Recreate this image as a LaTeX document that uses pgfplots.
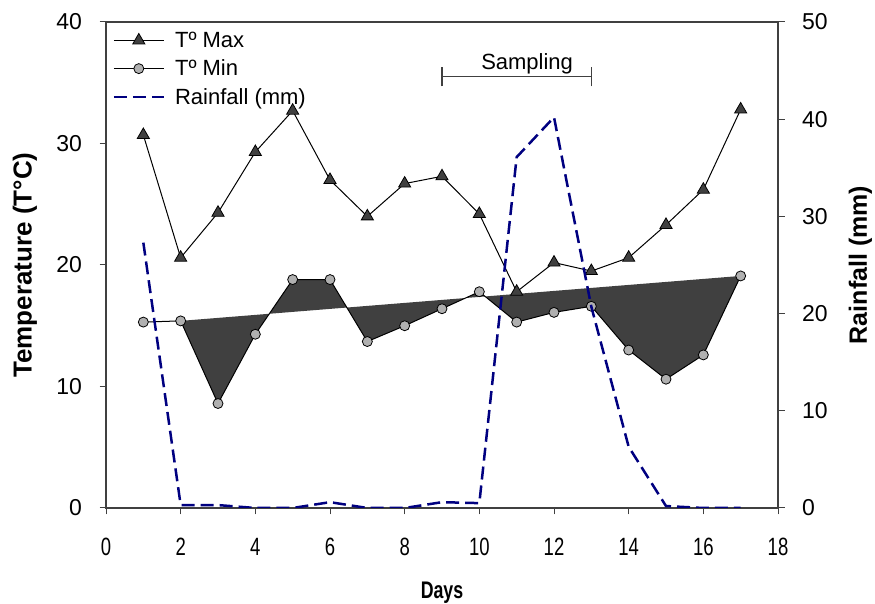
\documentclass[border=0pt]{standalone}
\usepackage{fontspec}
\setmainfont{Liberation Sans}
\newfontfamily\condensed{Liberation Sans}[FakeStretch=0.74]
\usepackage{pgfplots}
\pgfplotsset{compat=1.18}
\definecolor{darkfill}{HTML}{404040}
\definecolor{lightmk}{HTML}{B0B0B0}
\definecolor{rainblue}{HTML}{000080}
\definecolor{axgray}{HTML}{404040}
\begin{document}
\begin{tikzpicture}
\useasboundingbox (0,0) rectangle (875pt,604pt);
\pgfplotsset{
  common/.style={
    at={(106pt,96pt)}, anchor=south west,
    scale only axis, width=672pt, height=486pt,
    xmin=0, xmax=18,
    tick align=outside, major tick length=6.5pt,
    tick style={axgray, line width=1pt},
    axis line style={axgray, line width=1.2pt},
    yticklabel style={font=\fontsize{23}{26}\selectfont},
    xticklabel style={font=\fontsize{25}{28}\selectfont\condensed},
    /pgf/number format/assume math mode=true,
  }
}
\begin{axis}[common,
  ymin=0, ymax=40,
  xtick={0,2,...,18}, ytick={0,10,...,40},
  xtick pos=lower, ytick pos=left,
  xticklabel style={yshift=-20pt},
  yticklabel style={xshift=-14pt},
  xlabel={Days}, ylabel={Temperature (T°C)},
  xlabel style={at={(axis description cs:0.5,-0.175)}, anchor=center,
    font=\fontsize{24}{28}\selectfont\condensed\bfseries},
  ylabel style={at={(axis description cs:-0.1205,0.5)}, anchor=center,
    font=\fontsize{26}{30}\selectfont\bfseries},
  legend style={at={(0.005,0.988)}, anchor=north west, draw=none, fill=none,
    font=\fontsize{22}{26}\selectfont, row sep=7pt,
    /tikz/every odd column/.append style={column sep=8pt}},
  legend cell align=left,
  legend image code/.code={\draw[mark repeat=2,mark phase=2,#1] plot coordinates {(0pt,0pt) (25pt,0pt) (50pt,0pt)};},
]
% shaded polygon: T min from day 2 to 17, closed back to day 2
\addplot[fill=darkfill, draw=none, forget plot] coordinates {
 (2,15.4) (3,8.6) (4,14.3) (5,18.8) (6,18.8) (7,13.7) (8,15.0) (9,16.4)
 (10,17.8) (11,15.3) (12,16.1) (13,16.6) (14,13.0) (15,10.6) (16,12.6) (17,19.1) (2,15.4)};
\addplot[black, line width=1pt, mark=triangle*, mark size=7pt,
  mark options={fill=darkfill, draw=black, line width=0.8pt}] coordinates {
 (1,30.7) (2,20.6) (3,24.3) (4,29.3) (5,32.7) (6,27.0) (7,24.0) (8,26.7) (9,27.3)
 (10,24.2) (11,17.8) (12,20.2) (13,19.5) (14,20.6) (15,23.3) (16,26.2) (17,32.8)};
\addlegendentry{Tº Max}
\addplot[black, line width=1pt, mark=*, mark size=5pt,
  mark options={fill=lightmk, draw=black, line width=0.8pt}] coordinates {
 (1,15.3) (2,15.4) (3,8.6) (4,14.3) (5,18.8) (6,18.8) (7,13.7) (8,15.0) (9,16.4)
 (10,17.8) (11,15.3) (12,16.1) (13,16.6) (14,13.0) (15,10.6) (16,12.6) (17,19.1)};
\addlegendentry{Tº Min}
\addlegendimage{rainblue, line width=2.5pt, dash pattern=on 13pt off 6pt}
\addlegendentry{Rainfall (mm)}
% sampling bracket
\draw[axgray, line width=1.5pt] (axis cs:9,35.5) -- (axis cs:13,35.5);
\draw[axgray, line width=1.5pt] (axis cs:9,34.7) -- (axis cs:9,36.3);
\draw[axgray, line width=1.5pt] (axis cs:13,34.7) -- (axis cs:13,36.3);
\node[font=\fontsize{22}{26}\selectfont, anchor=base] at (axis cs:11.28,36.1) {Sampling};
\end{axis}
\begin{axis}[common,
  ymin=0, ymax=50, ytick={0,10,...,50},
  axis x line=none, axis y line*=right,
  yticklabel style={xshift=14pt},
  ylabel={Rainfall (mm)},
  ylabel style={at={(axis description cs:1.1228,0.5)}, anchor=center, rotate=0,
    font=\fontsize{25}{29}\selectfont\bfseries},
]
\addplot[rainblue, line width=2.5pt, dash pattern=on 13pt off 6pt] coordinates {
 (1,27.3) (2,0.3) (3,0.3) (4,0) (5,0) (6,0.6) (7,0) (8,0) (9,0.6)
 (10,0.5) (11,36.1) (12,40.2) (13,20.7) (14,6.3) (15,0.2) (16,0) (17,0)};
\end{axis}
\end{tikzpicture}
\end{document}
